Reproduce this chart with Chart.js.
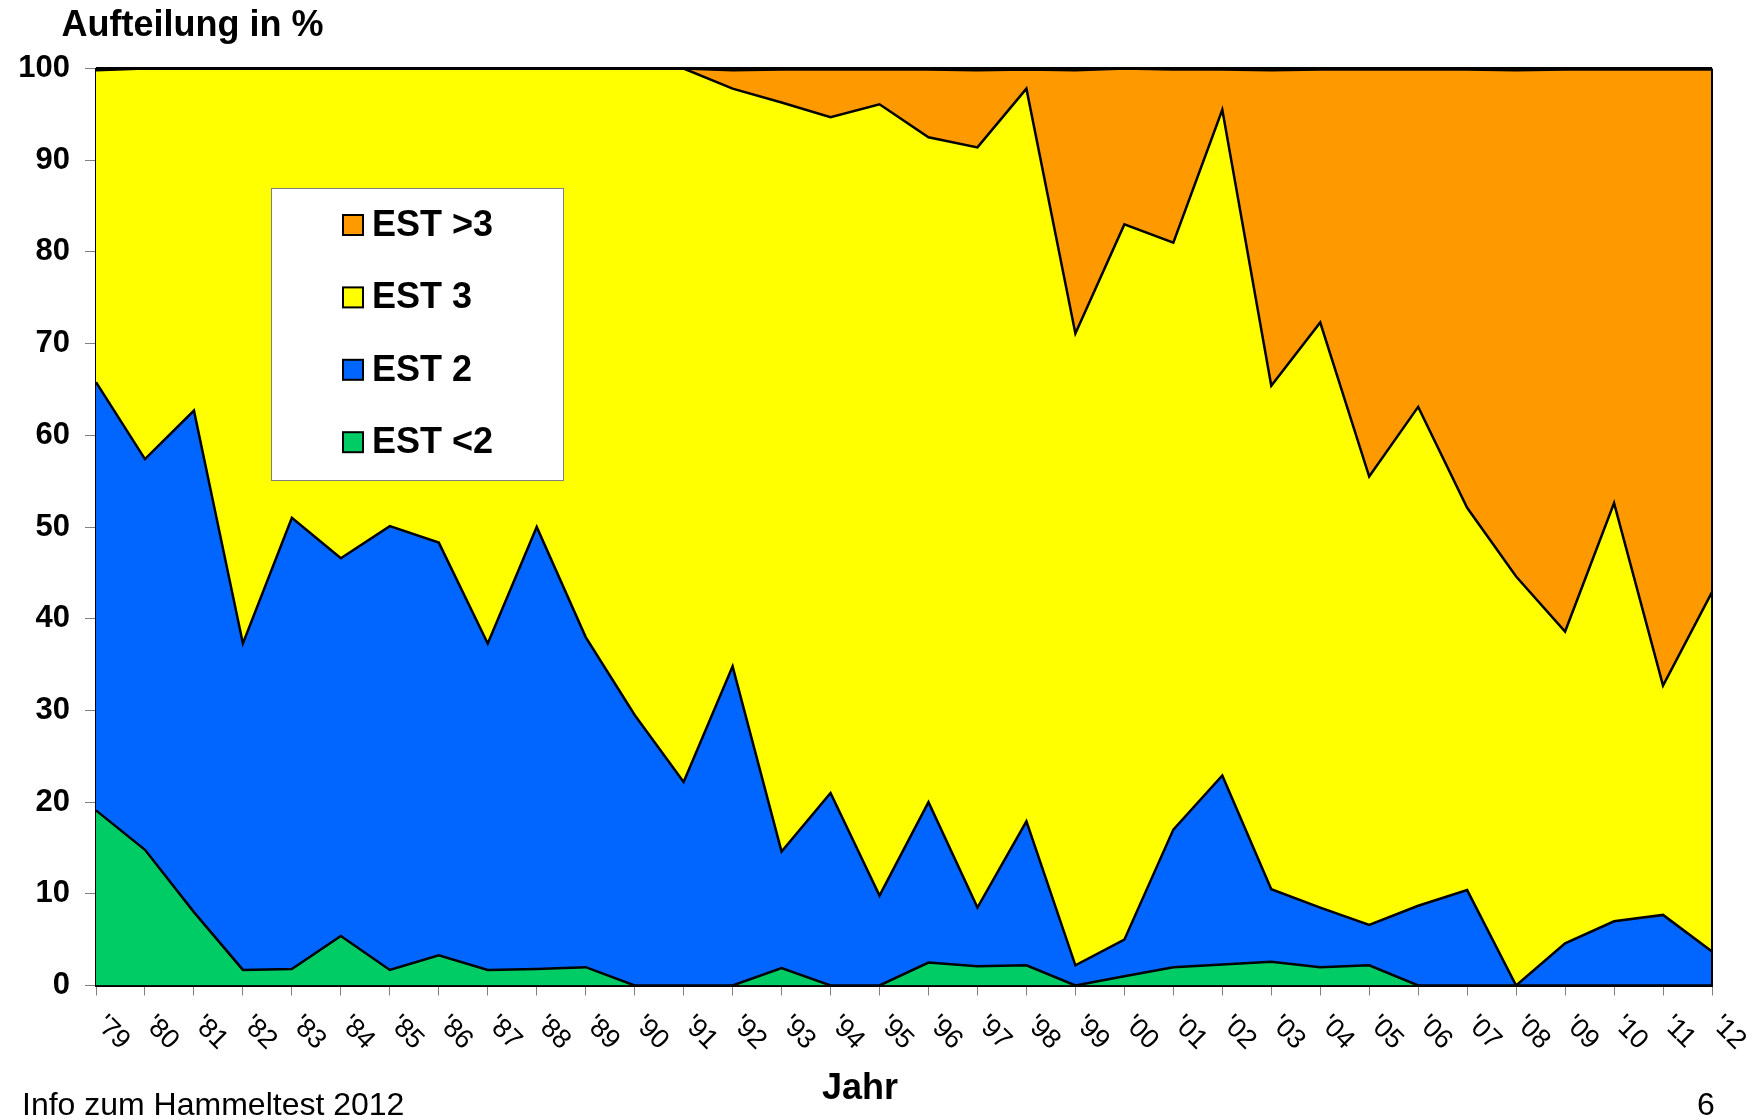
<!DOCTYPE html>
<html lang="de">
<head>
<meta charset="utf-8">
<title>Aufteilung in %</title>
<script src="https://cdn.jsdelivr.net/npm/chart.js@4.4.1/dist/chart.umd.min.js"></script>
<style>
  html, body { margin: 0; padding: 0; background: #ffffff; }
  #wrap { position: relative; width: 1762px; height: 1120px; }
</style>
</head>
<body>
<div id="wrap"><canvas id="chart"></canvas></div>
<script>
// Jahrgänge (x-Achse)
const years = ["'79", "'80", "'81", "'82", "'83", "'84", "'85", "'86", "'87", "'88",
               "'89", "'90", "'91", "'92", "'93", "'94", "'95", "'96", "'97", "'98",
               "'99", "'00", "'01", "'02", "'03", "'04", "'05", "'06", "'07", "'08",
               "'09", "'10", "'11", "'12"];

// Anteile je Klasse in % (gestapelt)
const estUnder2 = [19.1, 14.8, 8.0, 1.7, 1.8, 5.4, 1.7, 3.3, 1.7, 1.8,
                   2.0, 0, 0, 0, 1.9, 0, 0, 2.5, 2.1, 2.2,
                   0, 1.0, 2.0, 2.3, 2.6, 2.0, 2.2, 0, 0, 0,
                   0, 0, 0, 0];
const est2 = [46.7, 42.6, 54.7, 35.6, 49.2, 41.2, 48.4, 45.0, 35.6, 48.2,
              36.0, 29.5, 22.2, 34.8, 12.7, 21.0, 9.8, 17.5, 6.4, 15.7,
              2.2, 4.0, 15.0, 20.6, 7.9, 6.5, 4.4, 8.7, 10.4, 0,
              4.6, 7.0, 7.7, 3.7];
const est3 = [34.0, 42.6, 37.3, 62.7, 49.0, 53.4, 49.9, 51.7, 62.7, 50.0,
              62.0, 70.5, 77.8, 63.0, 81.7, 73.7, 86.3, 72.5, 82.9, 79.9,
              68.9, 78.0, 64.0, 72.6, 54.9, 63.8, 48.9, 54.4, 41.7, 44.6,
              34.0, 45.6, 25.0, 39.2];
const estOver3 = [0, 0, 0, 0, 0, 0, 0, 0, 0, 0,
                  0, 0, 0, 2.0, 3.6, 5.2, 3.8, 7.4, 8.4, 2.1,
                  28.7, 17.0, 18.9, 4.4, 34.4, 27.6, 44.4, 36.8, 47.8, 55.2,
                  61.3, 47.3, 67.2, 57.0];

const seriesNames = ['EST <2', 'EST 2', 'EST 3', 'EST >3'];
const seriesColors = ['#00CC66', '#0066FF', '#FFFF00', '#FF9900'];

const FONT = '"Liberation Sans", Arial, Helvetica, sans-serif';

// Rahmen oben und rechts um die Zeichenfläche
const plotFrame = {
  id: 'plotFrame',
  afterDatasetsDraw(chart) {
    const { ctx, chartArea: a } = chart;
    ctx.save();
    ctx.strokeStyle = '#000';
    ctx.lineWidth = 3;
    ctx.beginPath();
    ctx.moveTo(a.left, a.top);
    ctx.lineTo(a.right, a.top);
    ctx.stroke();
    ctx.lineWidth = 2;
    ctx.beginPath();
    ctx.moveTo(a.right, a.top);
    ctx.lineTo(a.right, a.bottom);
    ctx.stroke();
    ctx.restore();
  }
};

// Überschrift, schräge Jahresbeschriftung, Achsentitel, Fußzeile und Legende
const slideText = {
  id: 'slideText',
  afterDraw(chart) {
    const { ctx, chartArea: a } = chart;
    const xs = chart.scales.x;
    ctx.save();
    ctx.fillStyle = '#000';

    // Überschrift
    ctx.font = 'bold 36px ' + FONT;
    ctx.textAlign = 'left';
    ctx.textBaseline = 'alphabetic';
    ctx.fillText('Aufteilung in %', 61.5, 36);

    // Jahre, im Uhrzeigersinn um 45° gedreht
    ctx.font = '27px ' + FONT;
    chart.data.labels.forEach((lbl, i) => {
      const px = xs.getPixelForTick(i);
      ctx.save();
      ctx.translate(px - 1, a.bottom + 40);
      ctx.rotate(Math.PI / 4);
      ctx.fillText(lbl, 0, 0);
      ctx.restore();
    });

    // Achsentitel
    ctx.font = 'bold 36px ' + FONT;
    ctx.textAlign = 'center';
    ctx.fillText('Jahr', 860, 1099);

    // Fußzeile
    ctx.font = '32px ' + FONT;
    ctx.textAlign = 'left';
    ctx.fillText('Info zum Hammeltest 2012', 22, 1115);
    ctx.fillText('6', 1697, 1115);

    // Legende
    const bx = 271.5, by = 188.5, bw = 292, bh = 292;
    ctx.fillStyle = '#ffffff';
    ctx.fillRect(bx, by, bw, bh);
    ctx.strokeStyle = '#808080';
    ctx.lineWidth = 1;
    ctx.strokeRect(bx, by, bw, bh);

    const items = chart.data.datasets.slice().reverse();
    ctx.font = 'bold 36px ' + FONT;
    ctx.textBaseline = 'middle';
    items.forEach((ds, k) => {
      const cy = 225 + k * 72.4;
      ctx.fillStyle = ds.backgroundColor;
      ctx.fillRect(343, cy - 10, 20, 20);
      ctx.strokeStyle = '#000';
      ctx.lineWidth = 2;
      ctx.strokeRect(343, cy - 10, 20, 20);
      ctx.fillStyle = '#000';
      ctx.fillText(ds.label, 372, cy + 1);
    });
    ctx.restore();
  }
};

const seriesData = [estUnder2, est2, est3, estOver3];

new Chart(document.getElementById('chart'), {
  type: 'line',
  data: {
    labels: years,
    datasets: seriesData.map((vals, i) => ({
      label: seriesNames[i],
      data: vals,
      backgroundColor: seriesColors[i],
      borderColor: '#000000',
      borderWidth: 2.5,
      borderJoinStyle: 'miter',
      fill: i === 0 ? 'origin' : '-1',
      pointRadius: 0,
      pointHoverRadius: 0,
      tension: 0
    }))
  },
  options: {
    responsive: true,
    maintainAspectRatio: false,
    animation: false,
    devicePixelRatio: 1,
    events: [],
    layout: { padding: { left: 0, right: 50, top: 68.5, bottom: 0 } },
    plugins: {
      legend: { display: false },
      tooltip: { enabled: false },
      title: { display: false }
    },
    scales: {
      x: {
        type: 'category',
        offset: false,
        z: 1,
        grid: {
          display: true,
          drawOnChartArea: false,
          drawTicks: true,
          tickLength: 10,
          tickColor: '#808080',
          tickWidth: 1
        },
        border: { display: true, color: '#000', width: 3 },
        ticks: { display: false, autoSkip: false },
        afterFit(scale) { scale.height = 134.5; }
      },
      y: {
        stacked: true,
        min: 0,
        max: 100,
        z: 1,
        ticks: {
          stepSize: 10,
          color: '#000',
          padding: 15,
          font: { family: FONT, size: 31, weight: 'bold' }
        },
        grid: {
          display: true,
          drawOnChartArea: false,
          drawTicks: true,
          tickLength: 11,
          tickColor: '#808080',
          tickWidth: 1
        },
        border: { display: true, color: '#000', width: 2 },
        afterFit(scale) { scale.width = 96; }
      }
    }
  },
  plugins: [plotFrame, slideText]
});
</script>
</body>
</html>
